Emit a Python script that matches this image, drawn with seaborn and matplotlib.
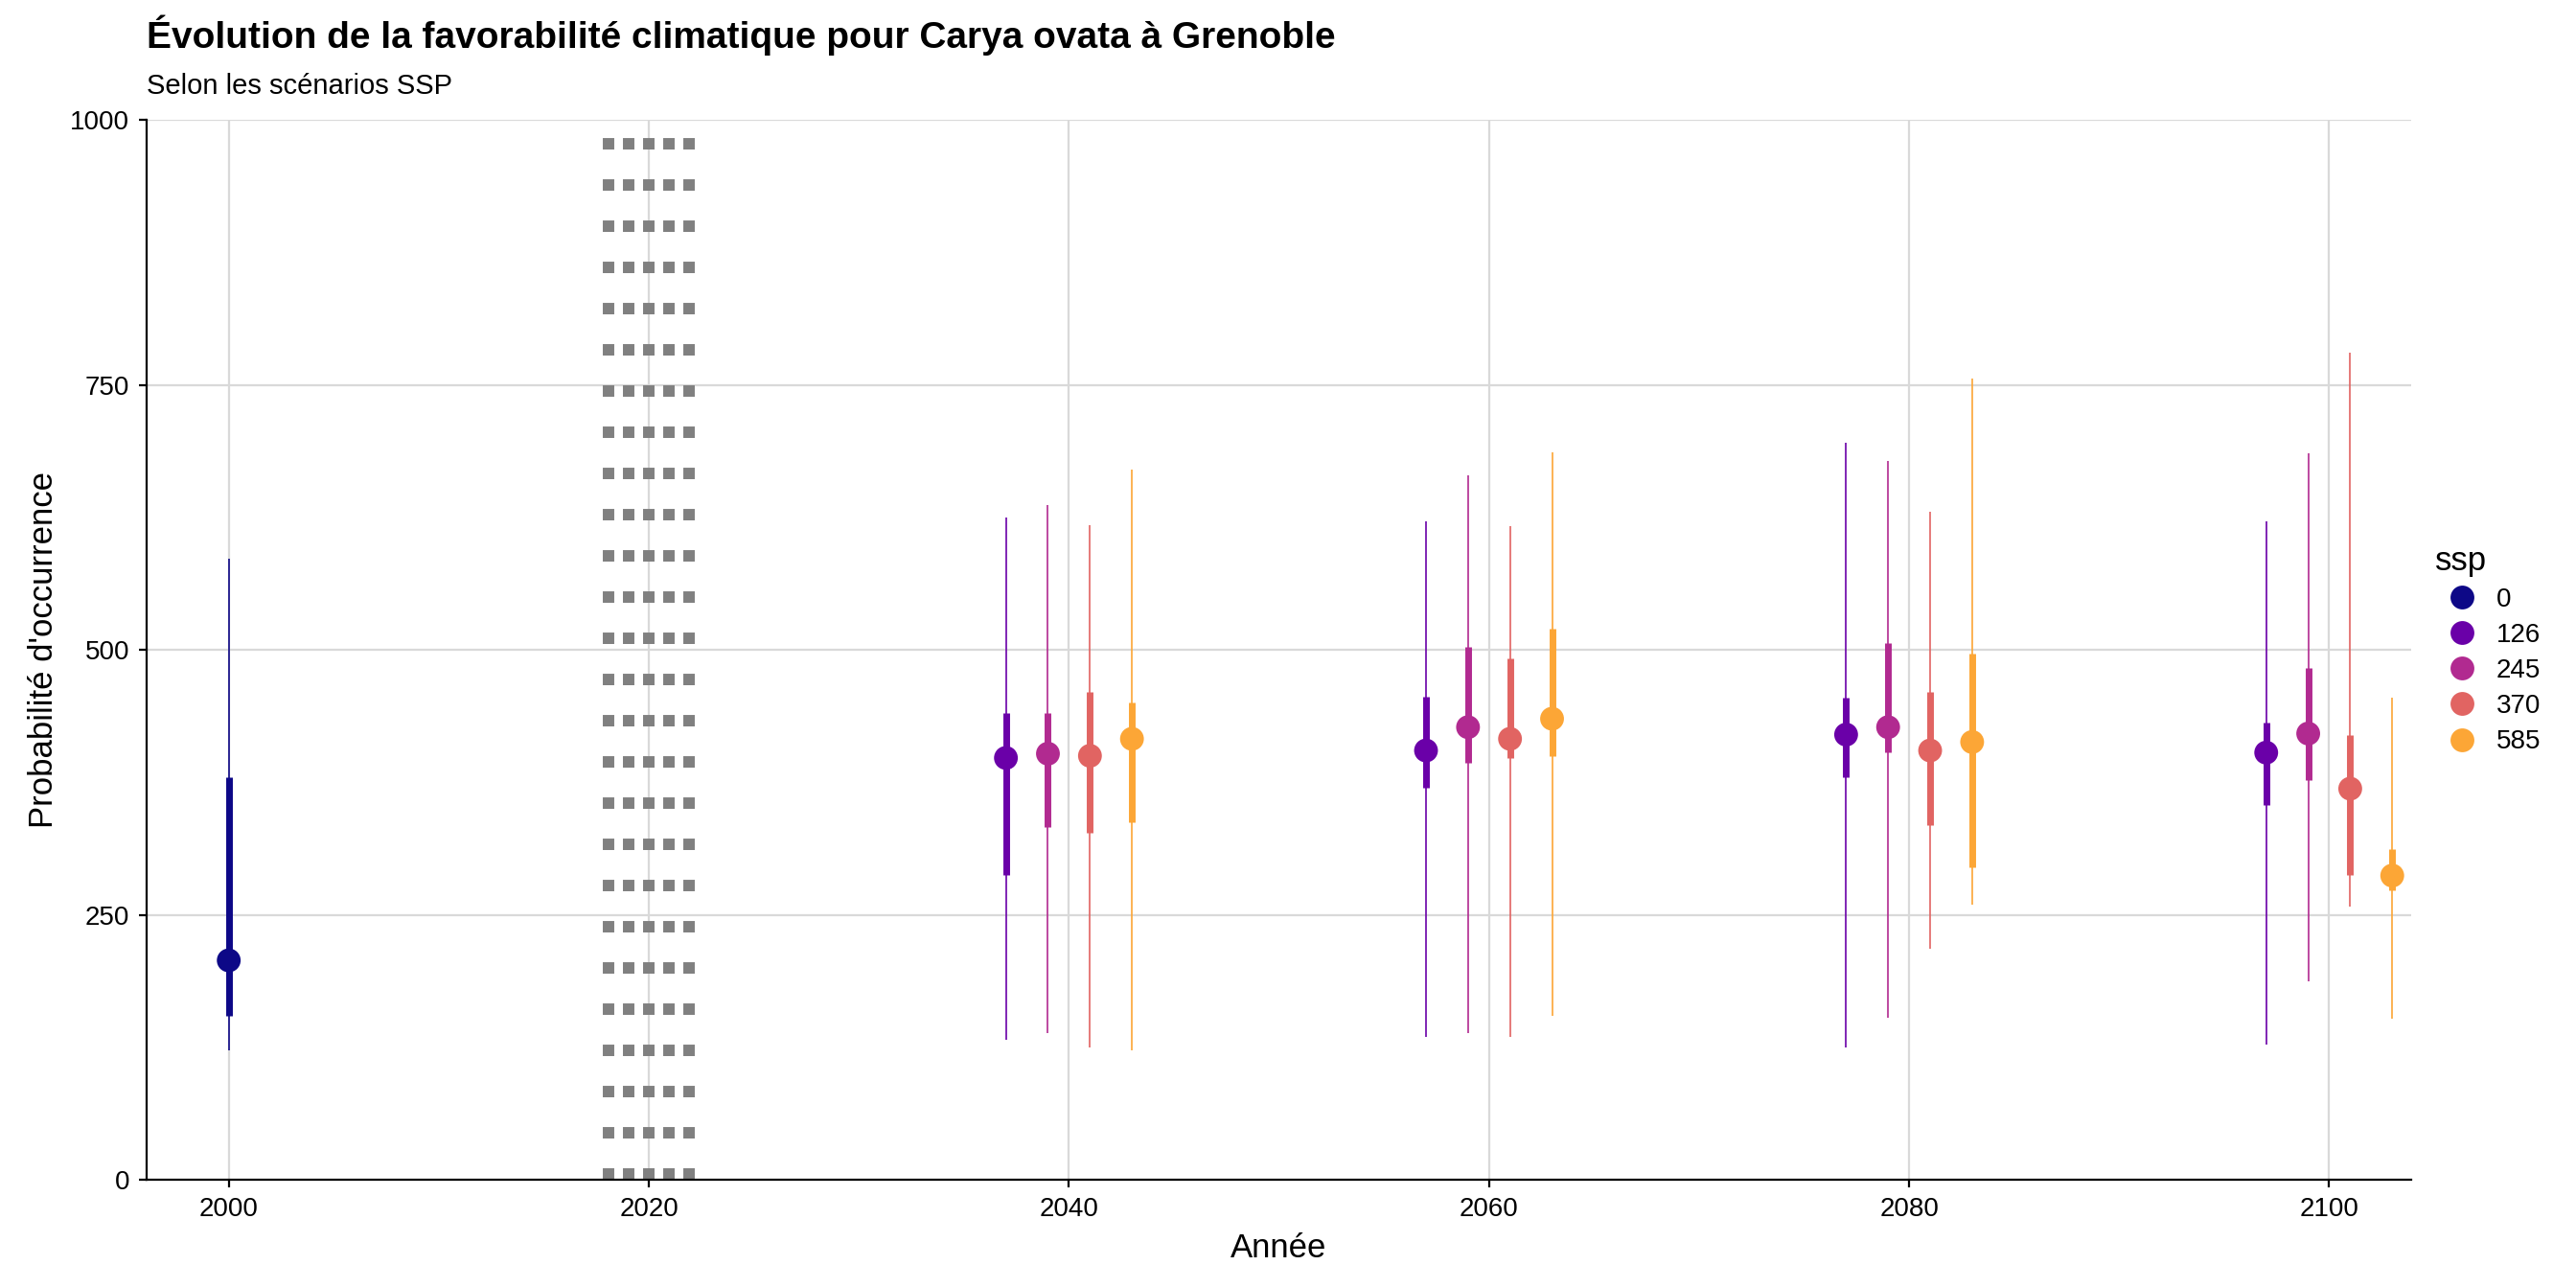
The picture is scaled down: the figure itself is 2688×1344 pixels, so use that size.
import pandas as pd
import matplotlib
matplotlib.use("Agg")
import matplotlib.pyplot as plt
import seaborn as sns

plt.rcParams["font.family"] = "Liberation Sans"

# Donnees
annee = [2000, 2037, 2039, 2041, 2043, 2057, 2059, 2061, 2063,
         2077, 2079, 2081, 2083, 2097, 2099, 2101, 2103]
ssp = ["0"] + ["126", "245", "370", "585"] * 4
mediane = [207, 398, 402, 400, 416, 405, 427, 416, 435, 420, 427, 405, 413, 403, 421, 369, 287]
q_bas = [155, 288, 333, 327, 337, 370, 393, 398, 400, 380, 403, 335, 295, 354, 377, 288, 273]
q_haut = [380, 440, 440, 460, 450, 456, 503, 492, 520, 455, 506, 460, 496, 431, 483, 420, 312]
mini = [122, 132, 138, 125, 122, 135, 138, 135, 155, 125, 153, 218, 260, 128, 187, 258, 152]
maxi = [586, 625, 637, 618, 670, 621, 665, 617, 686, 695, 678, 630, 756, 621, 685, 780, 455]

couleurs = {"0": "#0D0887", "126": "#6A00A8", "245": "#B12A90", "370": "#E16462", "585": "#FCA636"}

df = pd.DataFrame({"annee": annee, "ssp": ssp, "med": mediane,
                   "q1": q_bas, "q3": q_haut, "lo": mini, "hi": maxi})

fig = plt.figure(figsize=(13.44, 6.72), dpi=200)
ax = fig.add_axes([0.057, 0.084, 0.879, 0.823])

# grille
for v in [250, 500, 750, 1000]:
    ax.axhline(v, color="#d9d9d9", lw=0.8, zorder=0)
for v in [2000, 2020, 2040, 2060, 2080, 2100]:
    ax.axvline(v, color="#d9d9d9", lw=0.8, zorder=0)

# ligne pointillee epaisse en 2020
for dx in [-1.9, -0.95, 0, 0.95, 1.9]:
    ax.axvline(2020 + dx, color="grey", lw=4.3, ls=(0, (1, 2.6)), zorder=1)

for _, r in df.iterrows():
    c = couleurs[r["ssp"]]
    ax.vlines(r["annee"], r["lo"], r["hi"], color=c, lw=0.6, zorder=2)
    ax.vlines(r["annee"], r["q1"], r["q3"], color=c, lw=2.5, zorder=2)

sns.scatterplot(data=df, x="annee", y="med", hue="ssp", palette=couleurs,
                s=80, edgecolor="none", zorder=3, ax=ax)

ax.set_xlim(1996.1, 2103.9)
ax.set_ylim(0, 1000)
ax.set_xticks([2000, 2020, 2040, 2060, 2080, 2100])
ax.set_yticks([0, 250, 500, 750, 1000])
ax.tick_params(labelsize=10, length=3)
for s in ["top", "right"]:
    ax.spines[s].set_visible(False)
ax.set_xlabel("Année", fontsize=12.5)
ax.set_ylabel("Probabilité d'occurrence", fontsize=12.5)

leg = ax.legend(title="ssp", loc="center left", bbox_to_anchor=(1.0, 0.5),
                frameon=False, fontsize=10, title_fontsize=12.5, markerscale=1.0,
                handletextpad=0.3, labelspacing=0.4, alignment="left")

fig.text(0.057, 0.973, "Évolution de la favorabilité climatique pour Carya ovata à Grenoble",
         fontsize=14, fontweight="bold", va="center")
fig.text(0.057, 0.933, "Selon les scénarios SSP", fontsize=10.5, va="center")

fig.savefig("out.png", dpi=200)
